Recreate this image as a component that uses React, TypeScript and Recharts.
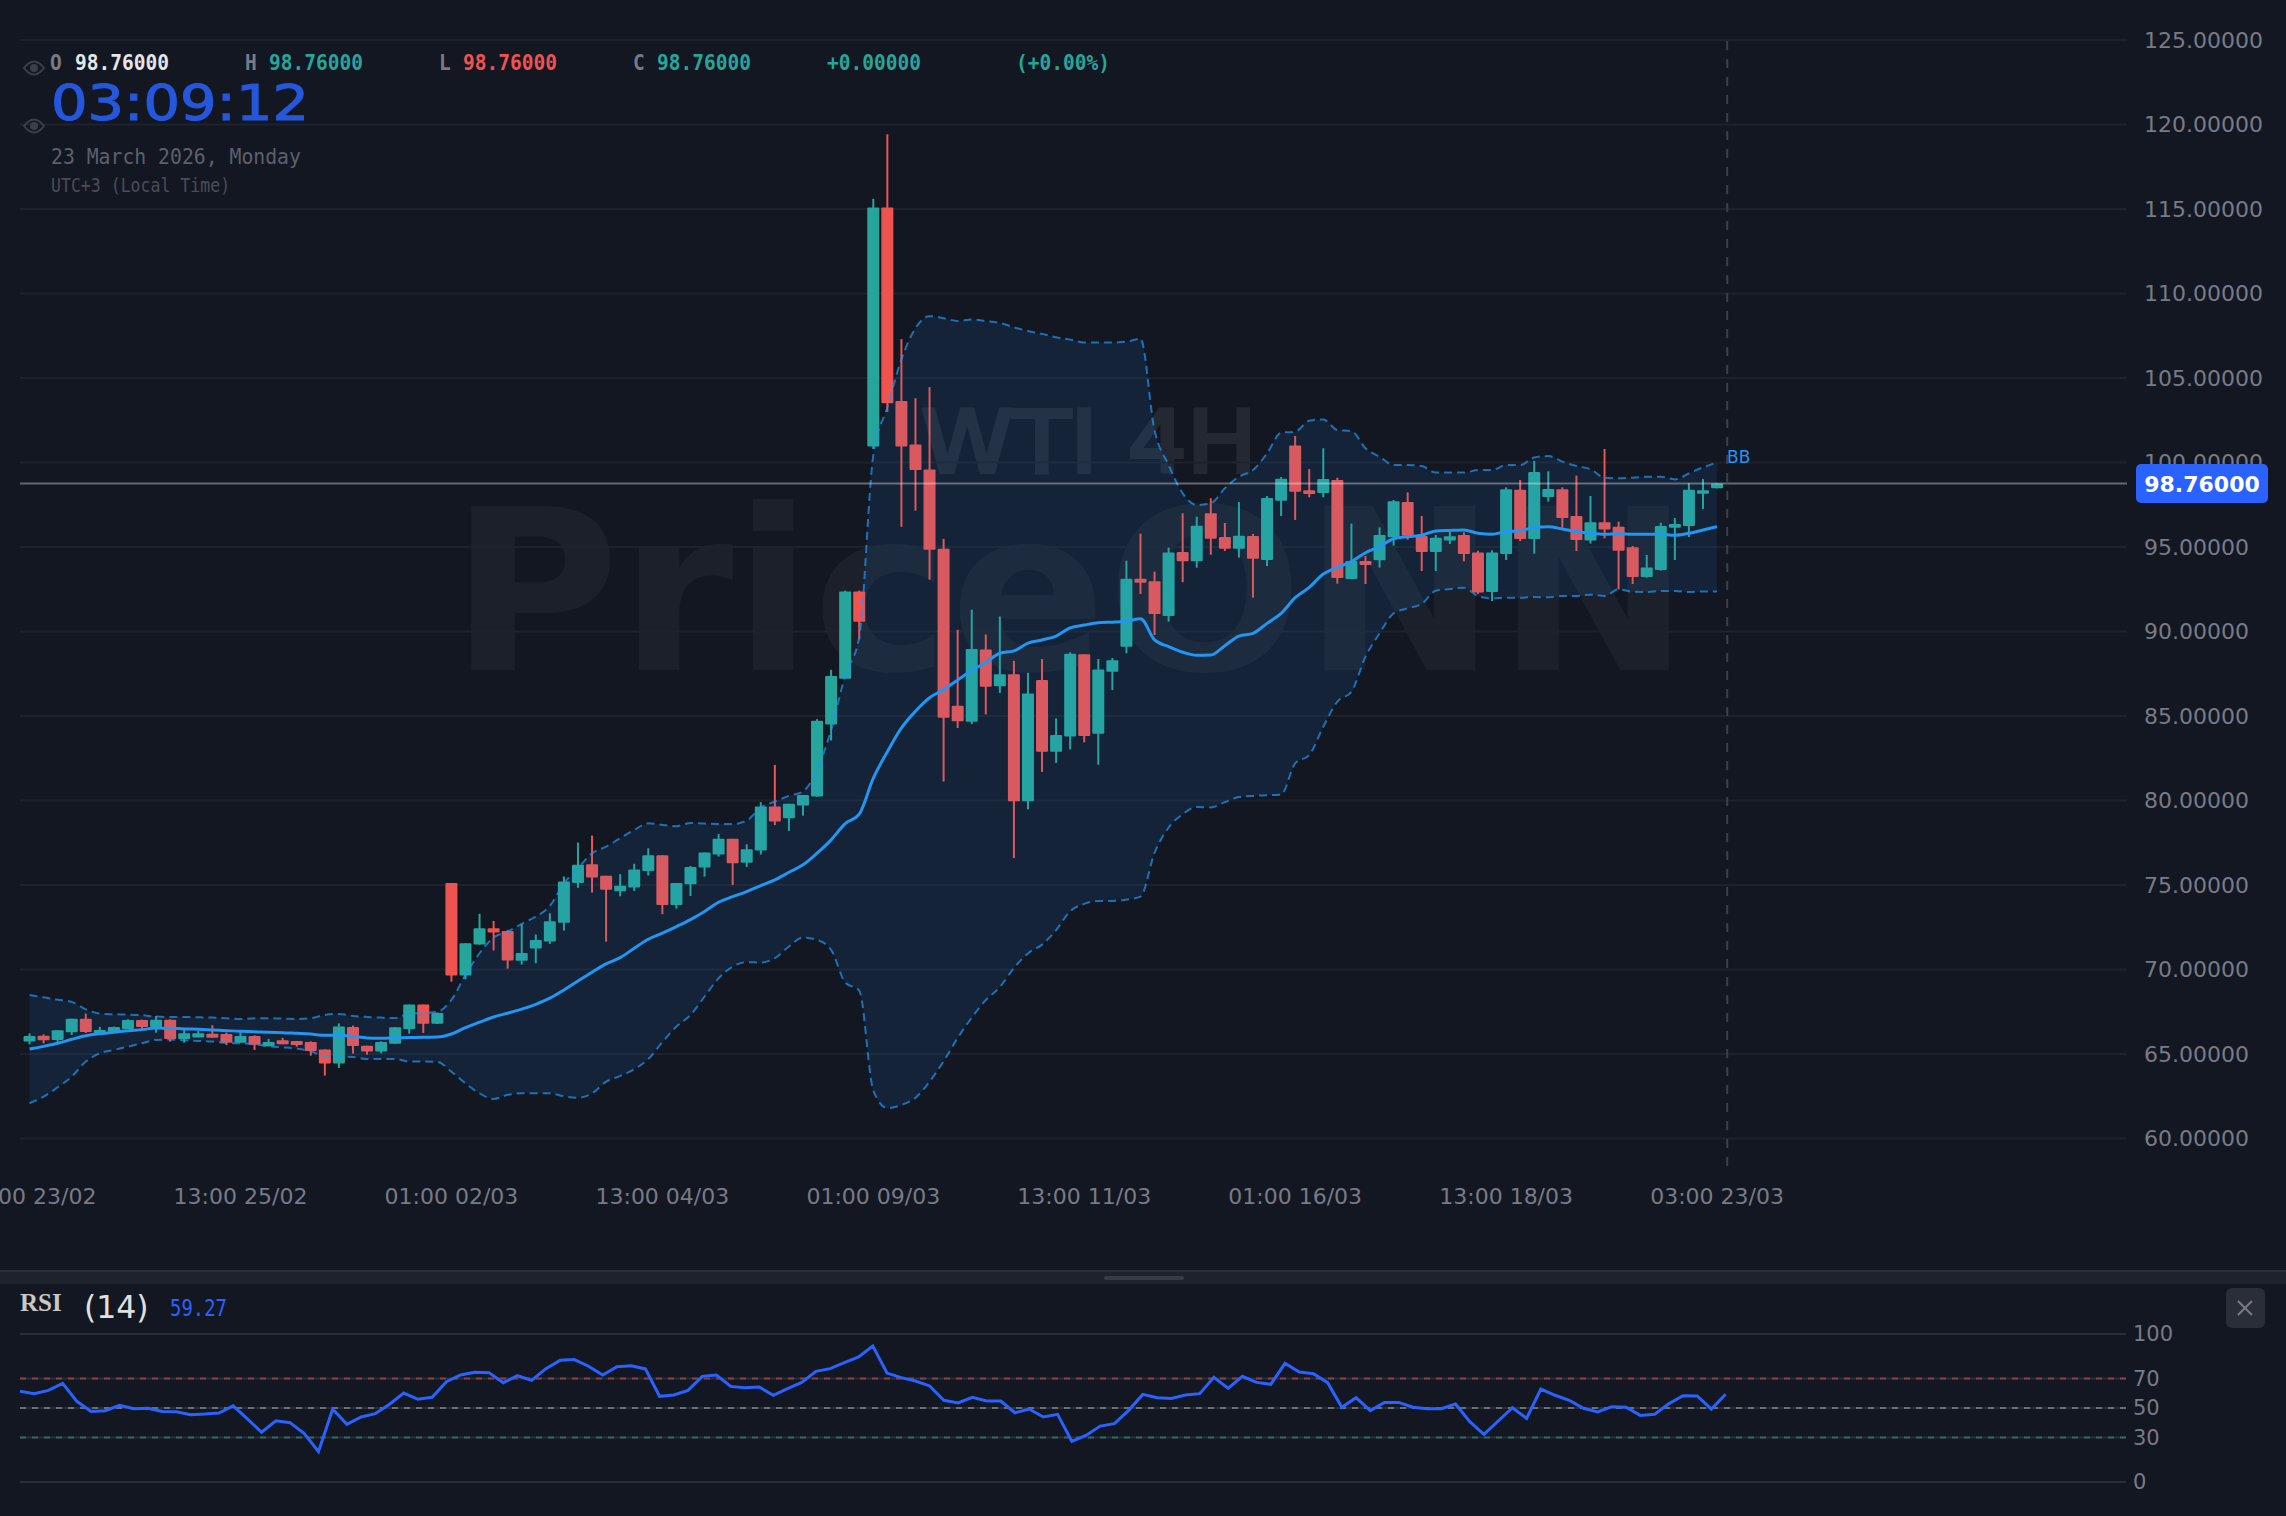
import { Bar, CartesianGrid, ComposedChart, Area, Line, ReferenceLine, XAxis, YAxis } from "recharts";

const BG = "#131722";
const UP = "#26a69a";
const DOWN = "#ef5350";
const BB = "#2196f3";
const RSI_BLUE = "#2962ff";
const AXIS_TEXT = "#787b86";
const SANS = "'DejaVu Sans', sans-serif";
const MONO = "'DejaVu Sans Mono', monospace";

const xLabels = ["01:00 23/02", "13:00 25/02", "01:00 02/03", "13:00 04/03", "01:00 09/03", "13:00 11/03", "01:00 16/03", "13:00 18/03", "03:00 23/03"];
const xTicks = [0, 15, 30, 45, 60, 75, 90, 105, 120];
const priceTicks = [60, 65, 70, 75, 80, 85, 90, 95, 100, 105, 110, 115, 120, 125];
const rsiTicks = [0, 30, 50, 70, 100];

const opens = [
  65.73, 66.08, 65.83, 66.28, 67.09, 66.18, 66.32, 66.48, 67.01, 66.6,
  67.03, 65.89, 65.98, 66.2, 66.18, 65.67, 66.06, 65.45, 65.81, 65.77,
  65.71, 65.27, 64.43, 66.6, 65.49, 65.14, 65.61, 66.48, 67.92, 66.79,
  75.12, 69.64, 71.47, 72.44, 72.28, 70.51, 71.24, 71.65, 72.76, 75.12,
  76.23, 75.54, 74.63, 74.85, 75.83, 76.76, 73.82, 75.04, 76.03, 76.8,
  77.73, 76.31, 77.04, 79.64, 78.95, 79.7, 80.23, 84.5, 87.2, 92.37,
  100.95, 115.09, 103.64, 101.06, 99.59, 94.89, 85.6, 84.66, 88.94, 86.76,
  87.47, 79.96, 87.13, 82.88, 83.78, 88.65, 83.95, 87.61, 89.1, 93.12,
  92.97, 90.92, 94.7, 94.15, 96.99, 95.59, 94.9, 95.65, 94.23, 97.74,
  101.01, 98.35, 98.19, 98.96, 93.1, 94.17, 94.21, 95.57, 97.66, 95.65,
  94.7, 95.39, 95.71, 94.68, 92.34, 94.58, 98.39, 95.47, 97.96, 98.41,
  96.83, 95.39, 96.46, 96.2, 94.98, 93.22, 93.64, 96.14, 96.24, 98.15,
  98.47,
];

const closes = [
  66.06, 65.81, 66.4, 67.09, 66.3, 66.42, 66.6, 67.01, 66.6, 67.03,
  65.89, 66.22, 66.22, 65.96, 65.67, 66.06, 65.55, 65.71, 65.57, 65.53,
  65.18, 64.43, 66.62, 65.47, 65.14, 65.71, 66.58, 67.92, 66.79, 67.43,
  69.64, 71.55, 72.44, 72.18, 70.53, 70.98, 71.75, 72.85, 75.2, 76.19,
  75.44, 74.71, 74.95, 75.91, 76.76, 73.82, 75.12, 76.07, 76.92, 77.73,
  76.29, 77.11, 79.64, 78.75, 79.8, 80.33, 84.71, 87.37, 92.37, 90.58,
  115.09, 103.5, 100.95, 99.56, 94.83, 84.89, 84.69, 88.97, 86.73, 87.47,
  79.96, 86.33, 82.88, 83.87, 88.68, 83.81, 87.75, 88.29, 93.12, 92.89,
  91.03, 94.68, 94.15, 96.26, 95.49, 94.9, 95.67, 94.31, 97.9, 99.04,
  98.27, 98.13, 99.02, 93.16, 94.17, 93.93, 95.71, 97.7, 95.67, 94.7,
  95.55, 95.63, 94.58, 92.3, 94.68, 98.41, 95.47, 99.44, 98.43, 96.71,
  95.41, 96.46, 96.04, 94.78, 93.22, 93.78, 96.24, 96.36, 98.39, 98.35,
  98.76,
];

const highs = [
  66.22, 66.16, 66.4, 67.09, 67.39, 66.6, 66.62, 67.05, 67.03, 67.25,
  67.05, 66.54, 66.36, 66.7, 66.26, 66.36, 66.1, 65.89, 65.95, 65.77,
  65.75, 65.27, 66.81, 66.68, 65.49, 65.75, 66.58, 67.92, 67.92, 67.45,
  75.12, 71.55, 73.29, 72.87, 72.34, 72.7, 72.07, 73.33, 75.5, 77.51,
  77.92, 75.54, 75.64, 76.25, 77.17, 76.76, 75.12, 76.13, 76.92, 78.02,
  77.73, 77.41, 79.9, 82.1, 79.8, 80.33, 84.81, 87.73, 92.42, 92.42,
  115.6, 119.42, 107.3, 103.8, 104.46, 95.48, 90.1, 91.29, 89.82, 90.89,
  88.26, 87.55, 88.37, 84.86, 88.77, 88.65, 88.37, 88.43, 94.19, 95.79,
  93.54, 94.96, 96.99, 96.79, 97.88, 96.42, 97.66, 95.77, 98.02, 99.14,
  101.57, 99.61, 100.84, 99.1, 96.38, 94.47, 96.16, 97.78, 98.23, 96.83,
  95.71, 95.9, 95.87, 94.78, 94.8, 98.53, 98.96, 100.09, 99.48, 98.53,
  99.22, 98.02, 100.8, 96.5, 95.06, 94.53, 96.44, 96.71, 98.77, 99.02,
  98.76,
];

const lows = [
  65.57, 65.63, 65.69, 66.12, 66.24, 66.18, 66.3, 66.48, 66.46, 66.26,
  65.73, 65.67, 65.98, 65.96, 65.53, 65.67, 65.24, 65.45, 65.57, 65.43,
  64.9, 63.72, 64.17, 65.02, 64.96, 65.04, 65.61, 66.2, 66.24, 66.79,
  69.28, 69.42, 71.47, 71.12, 70.05, 70.29, 70.37, 71.51, 72.3, 74.83,
  74.55, 71.65, 74.33, 74.65, 75.56, 73.27, 73.6, 74.35, 75.5, 76.68,
  75.0, 76.07, 76.8, 78.54, 78.2, 79.1, 80.23, 83.55, 87.2, 89.53,
  100.8, 103.0, 96.19, 97.15, 93.07, 81.12, 84.29, 84.52, 85.09, 86.36,
  76.59, 79.48, 81.69, 82.22, 83.02, 83.44, 82.11, 86.53, 88.71, 92.22,
  89.79, 90.58, 92.91, 93.78, 94.54, 94.76, 94.37, 92.0, 93.87, 96.83,
  96.6, 97.94, 97.94, 92.83, 93.1, 92.81, 93.78, 95.08, 95.43, 93.58,
  93.58, 95.18, 94.15, 92.22, 91.8, 94.23, 95.35, 94.6, 97.68, 96.14,
  94.76, 95.2, 95.51, 92.49, 92.81, 93.18, 93.6, 94.23, 95.59, 97.25,
  98.47,
];

const bbUpper = [
  68.49, 68.35, 68.21, 68.08, 67.64, 67.39, 67.35, 67.33, 67.29, 67.21,
  67.19, 67.19, 67.17, 67.15, 67.11, 67.07, 67.11, 67.11, 67.09, 67.07,
  67.11, 67.31, 67.37, 67.25, 67.19, 67.15, 67.13, 67.39, 67.43, 67.5,
  68.2, 69.68, 70.96, 71.9, 72.24, 72.7, 73.13, 73.76, 75.1, 75.99,
  76.88, 77.27, 77.77, 78.26, 78.65, 78.55, 78.48, 78.67, 78.63, 78.61,
  78.61, 78.81, 79.58, 79.94, 80.27, 80.53, 81.81, 84.18, 87.41, 89.68,
  100.44, 103.27, 106.11, 107.95, 108.66, 108.54, 108.37, 108.46, 108.37, 108.26,
  108.0, 107.78, 107.61, 107.41, 107.27, 107.1, 107.1, 107.1, 107.15, 107.32,
  101.9, 99.85, 98.17, 97.48, 97.58, 98.47, 99.16, 99.55, 100.54, 101.76,
  101.82, 102.47, 102.55, 101.92, 101.86, 100.84, 100.34, 99.85, 99.85, 99.79,
  99.4, 99.4, 99.4, 99.55, 99.55, 99.85, 99.85, 100.3, 100.38, 100.05,
  99.79, 99.6, 99.1, 99.06, 99.1, 99.16, 99.16, 99.0, 99.36, 99.71,
  100.0,
];

const bbMiddle = [
  65.29, 65.45, 65.63, 65.87, 66.08, 66.2, 66.28, 66.38, 66.44, 66.54,
  66.52, 66.48, 66.46, 66.42, 66.38, 66.34, 66.32, 66.28, 66.26, 66.22,
  66.18, 66.1, 66.1, 66.04, 65.95, 65.93, 65.95, 65.97, 65.99, 66.0,
  66.18, 66.56, 66.88, 67.19, 67.41, 67.65, 67.94, 68.3, 68.79, 69.32,
  69.84, 70.33, 70.7, 71.26, 71.79, 72.15, 72.54, 72.95, 73.43, 73.98,
  74.31, 74.61, 74.96, 75.3, 75.75, 76.19, 76.88, 77.67, 78.63, 79.19,
  81.32, 82.88, 84.29, 85.28, 86.08, 86.56, 87.13, 87.69, 88.17, 88.71,
  88.85, 89.31, 89.5, 89.73, 90.21, 90.38, 90.52, 90.55, 90.6, 90.76,
  89.5, 89.1, 88.77, 88.59, 88.61, 89.16, 89.73, 89.89, 90.48, 91.07,
  92.0, 92.61, 93.4, 93.8, 94.13, 94.66, 95.02, 95.49, 95.61, 95.69,
  95.95, 95.98, 96.0, 95.81, 95.75, 95.91, 95.95, 96.16, 96.2, 96.06,
  95.91, 95.81, 95.75, 95.79, 95.75, 95.75, 95.75, 95.69, 95.81, 96.0,
  96.2,
];

const bbLower = [
  62.08, 62.47, 63.03, 63.66, 64.55, 65.04, 65.24, 65.43, 65.63, 65.83,
  65.85, 65.81, 65.77, 65.73, 65.65, 65.63, 65.57, 65.45, 65.39, 65.31,
  65.16, 64.86, 64.84, 64.82, 64.7, 64.7, 64.7, 64.55, 64.55, 64.53,
  63.95, 63.26, 62.67, 62.34, 62.58, 62.67, 62.67, 62.67, 62.49, 62.41,
  62.67, 63.36, 63.7, 64.1, 64.7, 65.7, 66.62, 67.31, 68.4, 69.48,
  70.17, 70.43, 70.41, 70.67, 71.36, 71.89, 71.75, 71.16, 69.23, 68.75,
  62.84, 61.8, 61.98, 62.41, 63.36, 64.57, 65.95, 67.15, 68.19, 68.96,
  70.09, 70.95, 71.47, 72.33, 73.45, 73.88, 74.05, 74.05, 74.14, 74.31,
  76.9, 78.4, 79.19, 79.62, 79.59, 79.9, 80.2, 80.27, 80.31, 80.35,
  82.2, 82.69, 84.37, 85.85, 86.44, 88.51, 89.89, 91.07, 91.37, 91.63,
  92.41, 92.51, 92.59, 92.1, 91.96, 92.0, 92.0, 92.04, 92.02, 92.1,
  92.1, 92.18, 92.1, 92.49, 92.35, 92.34, 92.39, 92.39, 92.34, 92.37,
  92.37,
];

const rsiValues = [
  61.3, 59.7, 61.9, 66.7, 54.5, 47.7, 48.2, 51.8, 49.5, 49.8,
  47.7, 47.5, 45.5, 45.9, 46.6, 51.4, 42.6, 33.6, 41.4, 40.1,
  32.7, 20.5, 49.3, 39.0, 43.9, 46.2, 52.5, 60.1, 55.9, 57.2,
  67.8, 72.3, 74.1, 73.9, 67.1, 71.8, 68.7, 76.6, 82.2, 82.7,
  78.2, 72.3, 77.9, 78.6, 76.4, 57.9, 58.8, 61.9, 71.4, 72.3,
  64.6, 63.7, 64.2, 58.6, 63.1, 67.3, 74.8, 76.6, 80.6, 84.5,
  91.9, 73.6, 70.5, 68.2, 64.9, 55.2, 53.4, 57.2, 54.7, 54.7,
  46.8, 49.3, 43.9, 45.7, 27.5, 31.5, 37.8, 39.4, 48.4, 59.2,
  57.0, 56.5, 58.8, 59.7, 70.7, 63.3, 71.4, 67.3, 66.0, 80.2,
  74.3, 73.2, 67.1, 50.5, 57.0, 48.2, 53.8, 53.8, 50.5, 49.5,
  49.5, 52.7, 40.8, 32.2, 41.2, 50.2, 43.0, 62.8, 58.6, 55.2,
  49.8, 47.3, 50.9, 50.5, 45.0, 45.7, 52.9, 58.3, 58.1, 49.3,
  59.27,
];

const candles = opens.map((open, i) => ({
  i,
  open,
  close: closes[i],
  high: highs[i],
  low: lows[i],
  upper: bbUpper[i],
  middle: bbMiddle[i],
  lower: bbLower[i],
}));

const rsiData = rsiValues.map((rsi, j) => ({ j, rsi }));

// body and wick, placed inside the high-low box that Bar hands over
function Candle(props: any) {
  const { x, y, width, height, payload } = props;
  const top = Math.min(y, y + height);
  const h = Math.abs(height) || 1;
  const py = (p: number) => top + ((payload.high - p) / (payload.high - payload.low || 1)) * h;
  const color = payload.close >= payload.open ? UP : DOWN;
  const bodyTop = py(Math.max(payload.open, payload.close));
  const bodyH = Math.max(py(Math.min(payload.open, payload.close)) - bodyTop, 2);
  return (
    <g>
      <rect x={x + width / 2 - 1} y={top} width={2} height={h} fill={color} />
      <rect x={x} y={bodyTop} width={width} height={bodyH} fill={color} rx={1} />
    </g>
  );
}

function Eye({ cy }: { cy: number }) {
  return (
    <g stroke="#3b3f4a" fill="none" strokeWidth={2}>
      <path d={`M24 ${cy} Q34 ${cy - 13} 44 ${cy} Q34 ${cy + 13} 24 ${cy} Z`} />
      <circle cx={34} cy={cy} r={4} fill="#3b3f4a" stroke="none" />
    </g>
  );
}

// the legend font is narrower than DejaVu Mono, so squeeze it to the measured advance
function Mono({ x, y, size, advance, fill, bold, children }: any) {
  return (
    <text
      x={x}
      y={y}
      fontFamily={MONO}
      fontSize={size}
      fontWeight={bold ? "bold" : "normal"}
      fill={fill}
      textLength={children.length * advance}
      lengthAdjust="spacingAndGlyphs"
    >
      {children}
    </text>
  );
}

export default function App() {
  const head = { y: 70, size: 21.5, advance: 11.75, bold: true };
  return (
    <div style={{ position: "absolute", left: 0, top: 0, width: 2286, height: 1516, background: BG, overflow: "hidden" }}>
      <svg style={{ position: "absolute", left: 0, top: 0 }} width={2286} height={1516}>
        <text x={450} y={670} fontFamily={SANS} fontWeight="bold" fontSize={224} fill="#ffffff" fillOpacity={0.04} textLength={1240} lengthAdjust="spacingAndGlyphs">PriceONN</text>
        <g opacity={0.07}>
          <text x={921} y={472} fontFamily={SANS} fontSize={86} fill="#ffffff" stroke="#ffffff" strokeWidth={4} textLength={336} lengthAdjust="spacingAndGlyphs">WTI 4H</text>
        </g>
      </svg>

      <div style={{ position: "absolute", left: 0, top: 0 }}>
        <ComposedChart width={2286} height={1250} data={candles} margin={{ top: 40, right: 0, bottom: 0, left: 20 }}>
          <CartesianGrid vertical={false} stroke="#1e222d" strokeWidth={2} horizontalValues={priceTicks} />
          <XAxis
            dataKey="i"
            type="number"
            domain={[-0.68, 149.15]}
            ticks={xTicks}
            interval={0}
            height={84}
            axisLine={false}
            tickLine={false}
            tickMargin={16}
            tick={{ fill: AXIS_TEXT, fontSize: 22, fontFamily: SANS }}
            tickFormatter={(v: number) => xLabels[xTicks.indexOf(v)]}
          />
          <YAxis
            orientation="right"
            type="number"
            domain={[58.37, 125]}
            ticks={priceTicks}
            interval={0}
            width={159}
            axisLine={false}
            tickLine={false}
            tickSize={0}
            tickMargin={17}
            tick={{ fill: AXIS_TEXT, fontSize: 22, fontFamily: SANS }}
            tickFormatter={(v: number) => v.toFixed(5)}
          />
          <Bar dataKey={(d: any) => [d.low, d.high]} barSize={12} shape={Candle} isAnimationActive={false} />
          <Area
            dataKey={(d: any) => [d.lower, d.upper]}
            type="monotone"
            stroke="none"
            fill={BB}
            fillOpacity={0.1}
            dot={false}
            activeDot={false}
            isAnimationActive={false}
            zIndex={350}
          />
          <Line dataKey="upper" type="monotone" stroke={BB} strokeOpacity={0.7} strokeWidth={2} strokeDasharray="8 5" dot={false} isAnimationActive={false} />
          <Line dataKey="lower" type="monotone" stroke={BB} strokeOpacity={0.7} strokeWidth={2} strokeDasharray="8 5" dot={false} isAnimationActive={false} />
          <Line dataKey="middle" type="monotone" stroke={BB} strokeWidth={3} dot={false} isAnimationActive={false} />
          <ReferenceLine y={98.76} stroke="#ffffff" strokeOpacity={0.35} strokeWidth={2} />
          <ReferenceLine x={120.72} stroke="#3b3f4a" strokeWidth={2} strokeDasharray="9 9" />
        </ComposedChart>
      </div>

      <div style={{ position: "absolute", left: 0, top: 1286 }}>
        <ComposedChart width={2286} height={230} data={rsiData} margin={{ top: 48, right: 0, bottom: 34, left: 20 }}>
          <CartesianGrid vertical={false} stroke="#2a2e39" strokeWidth={2} />
          <XAxis dataKey="j" type="number" domain={[0, 148.17]} hide />
          <YAxis
            orientation="right"
            type="number"
            domain={[0, 100]}
            ticks={rsiTicks}
            interval={0}
            width={160}
            axisLine={false}
            tickLine={false}
            tickSize={0}
            tickMargin={7}
            tick={{ fill: AXIS_TEXT, fontSize: 21, fontFamily: SANS }}
          />
          <ReferenceLine y={70} stroke="#8f3d40" strokeWidth={2} strokeDasharray="6 6" />
          <ReferenceLine y={50} stroke="#6a6d76" strokeWidth={2} strokeDasharray="6 6" />
          <ReferenceLine y={30} stroke="#266c66" strokeWidth={2} strokeDasharray="6 6" />
          <Line dataKey="rsi" type="linear" stroke={RSI_BLUE} strokeWidth={3} dot={false} isAnimationActive={false} />
        </ComposedChart>
      </div>

      <svg style={{ position: "absolute", left: 0, top: 0, pointerEvents: "none" }} width={2286} height={1516}>
        <Eye cy={68} />
        <Eye cy={126} />
        <Mono {...head} x={50} fill={AXIS_TEXT}>O</Mono>
        <Mono {...head} x={75} fill="#e6e6e6">98.76000</Mono>
        <Mono {...head} x={245} fill={AXIS_TEXT}>H</Mono>
        <Mono {...head} x={269} fill={UP}>98.76000</Mono>
        <Mono {...head} x={439} fill={AXIS_TEXT}>L</Mono>
        <Mono {...head} x={463} fill={DOWN}>98.76000</Mono>
        <Mono {...head} x={633} fill={AXIS_TEXT}>C</Mono>
        <Mono {...head} x={657} fill={UP}>98.76000</Mono>
        <Mono {...head} x={827} fill={UP}>+0.00000</Mono>
        <Mono {...head} x={1016} fill={UP}>(+0.00%)</Mono>

        <text x={51} y={120} fontFamily={SANS} fontSize={50} fill="#2557dd" stroke="#2557dd" strokeWidth={1.2} textLength={258} lengthAdjust="spacingAndGlyphs">03:09:12</text>
        <Mono x={51} y={164} size={22} advance={11.9} fill="#5d606b">23 March 2026, Monday</Mono>
        <Mono x={51} y={191.5} size={20} advance={9.95} fill="#4a4d58">UTC+3 (Local Time)</Mono>

        <text x={1727} y={463} fontFamily={SANS} fontSize={17} fill={BB}>BB</text>
        <rect x={2136} y={464} width={132} height={39} rx={5} fill={RSI_BLUE} />
        <text x={2202} y={492} textAnchor="middle" fontFamily={SANS} fontWeight="bold" fontSize={22} fill="#ffffff">98.76000</text>

        <rect x={0} y={1270} width={2286} height={2} fill="#2a2e39" />
        <rect x={0} y={1272} width={2286} height={12} fill="#1e222d" />
        <rect x={1104} y={1276} width={80} height={4} rx={2} fill="#363a45" />

        <text x={20} y={1311} fontFamily="'Liberation Serif', serif" fontWeight="bold" fontSize={25} fill="#c8c8c8">RSI</text>
        <text x={84} y={1318} fontFamily={SANS} fontSize={31.5} fill="#e0e0e0">(14)</text>
        <Mono x={170} y={1316} size={23} advance={11.4} fill={RSI_BLUE}>59.27</Mono>

        <rect x={2226} y={1288} width={39} height={40} rx={6} fill="#2a2e39" />
        <path d="M2238 1301 L2252 1315 M2252 1301 L2238 1315" stroke={AXIS_TEXT} strokeWidth={2} />
      </svg>
    </div>
  );
}
